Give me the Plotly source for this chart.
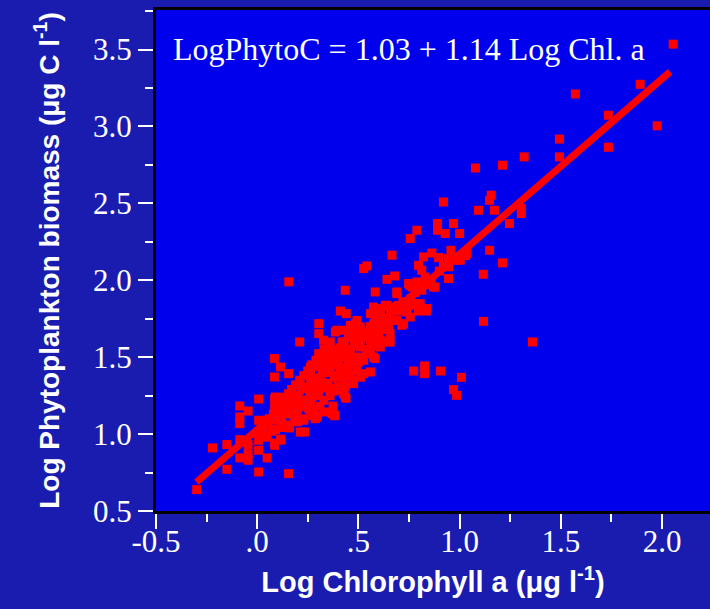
import plotly.graph_objects as go

# ---- data ----
pts = [
 (2.055,3.535),(1.892,3.274),(1.572,3.211),(1.735,3.073),(1.976,3.004),(1.735,2.865),(1.493,2.918),(1.493,2.802),
 (1.319,2.802),(1.212,2.748),(1.078,2.73),(1.156,2.553),(1.148,2.52),(1.093,2.455),(1.172,2.455),(1.305,2.466),
 (1.305,2.434),(0.92,2.509),(1.246,2.369),(0.891,2.369),(0.891,2.325),(0.97,2.369),(0.929,2.304),(1.0,2.304),
 (0.789,2.325),(0.756,2.271),(1.148,2.195),(1.212,2.113),(1.117,2.039),(0.666,2.163),(0.542,2.093),(0.526,2.076),
 (0.822,2.152),(0.863,2.177),(0.896,2.147),(0.797,2.097),(0.813,2.065),(0.83,2.021),(0.838,1.989),(0.879,1.956),
 (0.957,2.195),(0.945,2.141),(1.003,2.13),(1.036,2.174),(0.945,2.087),(0.945,2.011),(0.641,2.006),(0.679,2.028),
 (0.583,1.924),(0.69,1.924),(0.748,1.979),(0.765,1.956),(0.813,1.935),(0.871,1.956),(0.575,1.826),(0.633,1.837),
 (0.69,1.826),(0.748,1.837),(0.805,1.848),(0.838,1.816),(0.156,1.99),(0.435,1.935),(0.753,1.968),
 (1.118,1.733),(1.36,1.599),(0.773,1.41),(0.827,1.443),(0.827,1.393),(0.906,1.41),(1.009,1.369),(0.97,1.289),(0.985,1.252),
 (0.411,1.8),(0.44,1.783),(0.578,1.816),(0.608,1.794),(0.583,1.772),(0.641,1.837),(0.698,1.837),(0.74,1.848),
 (0.789,1.848),(0.797,1.80),(0.835,1.80),(0.74,1.794),(0.304,1.718),(0.304,1.653),(0.493,1.739),(0.509,1.696),
 (0.46,1.707),(0.427,1.675),(0.386,1.664),(0.575,1.718),(0.649,1.707),(0.649,1.751),(0.715,1.707),(0.21,1.599),
 (0.328,1.61),(0.361,1.599),(0.419,1.599),(0.46,1.631),(0.509,1.621),(0.6,1.61),(0.649,1.599),(0.6,1.577),
 (0.304,1.523),(0.304,1.491),(0.345,1.545),(0.37,1.545),(0.411,1.545),(0.559,1.523),(0.583,1.491),(0.526,1.48),
 (0.085,1.491),(0.115,1.436),(0.155,1.393),(0.085,1.371),(0.263,1.436),(0.263,1.393),(0.312,1.436),(0.345,1.447),
 (0.411,1.415),(0.444,1.415),(0.493,1.415),(0.509,1.371),(0.476,1.35),(0.213,1.317),(0.263,1.306),(0.304,1.285),
 (0.37,1.296),(0.419,1.285),(0.435,1.241),(0.155,1.263),(0.09,1.241),
 (0.559,1.783),(0.608,1.816),(0.608,1.761),(0.657,1.826),(0.69,1.913),(0.756,1.968),(0.789,1.989),(0.559,1.631),
 (0.608,1.61),(0.657,1.653),(0.608,1.566),(0.575,1.501),(0.559,1.404),(0.526,1.393),(0.624,1.718),(0.69,1.74),
 (0.723,1.718),(0.756,1.761),(0.805,1.805),(0.657,1.599),(0.485,1.718),(0.509,1.675),(0.485,1.61),(0.509,1.566),
 (0.485,1.501),(0.46,1.458),(0.509,1.371),(0.476,1.328),(0.435,1.306),(0.394,1.675),(0.394,1.458),(0.394,1.371),
 (0.427,1.566),(0.427,1.415),(0.427,1.263),(0.402,1.306),(0.328,1.501),(0.37,1.133),(0.383,1.122),(0.263,1.371),
 (0.263,1.263),(0.263,1.198),(0.263,1.133),(0.296,1.111),(0.234,1.014),(0.155,1.198),(0.131,1.144),
 (0.197,1.144),(0.197,1.09),(0.155,1.046),(0.049,0.992),(0.049,1.09),(0.086,1.231),(0.086,1.176),(0.086,1.09),
 (0.086,0.927),(0.155,0.743),(0.007,1.228),(0.007,1.09),(0.007,1.014),(0.007,0.96),(0.007,0.895),(0.007,0.754),
 (0.049,0.845),(-0.086,1.183),(-0.086,1.111),(-0.086,1.068),(-0.045,1.15),(-0.086,0.964),(-0.086,0.845),
 (-0.045,0.932),(-0.045,0.873),(-0.045,0.83),(-0.15,0.932),(-0.15,0.771),(-0.221,0.91),(-0.299,0.639),
 (0.115,0.96),(0.23,1.09),(0.287,1.1),(0.439,1.233),
 (0.297,1.119),(0.375,1.182),(0.335,1.144),(0.252,1.169),(0.185,1.081),(0.118,1.043),(0.074,1.018),(0.085,0.942),
 (0.118,0.967),(0.051,1.068),(0.384,1.119),(0.214,1.013),
 (0.03,1.05),(0.06,1.10),(0.10,1.12),(0.12,1.18),(0.14,1.16),(0.16,1.22),(0.18,1.20),(0.20,1.25),(0.22,1.22),
 (0.24,1.30),(0.26,1.28),(0.28,1.33),(0.30,1.36),(0.32,1.34),(0.34,1.40),(0.36,1.42),(0.38,1.45),(0.40,1.47),
 (0.42,1.50),(0.44,1.52),(0.46,1.55),(0.48,1.58),(0.50,1.62),(0.52,1.64),(0.54,1.66),(0.56,1.70),(0.60,1.72),
 (0.62,1.75),(0.66,1.78),(0.70,1.80),(0.72,1.86),(0.76,1.88),(0.78,1.92),(0.80,1.95),(0.84,1.97),(0.86,2.0),
 (0.90,2.06),(0.92,2.09),(0.98,2.13),(1.0,2.15),(1.03,2.16),
 (0.12,1.09),(0.15,1.13),(0.18,1.14),(0.2,1.17),(0.22,1.18),(0.25,1.22),(0.27,1.24),(0.3,1.25),(0.33,1.3),
 (0.35,1.33),(0.38,1.37),(0.4,1.38),(0.42,1.43),(0.45,1.47),(0.47,1.49),
 (0.08,1.13),(0.11,1.2),(0.13,1.24),(0.17,1.29),(0.19,1.32),(0.21,1.35),(0.23,1.38),(0.25,1.41),(0.27,1.45),
 (0.29,1.48),(0.31,1.5),(0.33,1.55),(0.35,1.58),(0.37,1.5),(0.39,1.53),(0.41,1.56),(0.43,1.6),(0.45,1.64),(0.47,1.67),
 (0.02,1.0),(0.04,0.98),(0.09,1.03),(0.14,1.06),(0.16,1.04),(0.2,1.08),(0.23,1.1),(0.26,1.12),(0.28,1.16),
 (0.31,1.18),(0.33,1.22),(0.36,1.25),(0.38,1.28),(0.4,1.31),(0.43,1.36),(0.46,1.38),(0.48,1.44),(0.5,1.47),
 (0.52,1.5),(0.54,1.55),(0.56,1.58),(0.58,1.62),(0.6,1.66),(0.63,1.68),(0.65,1.72),(0.68,1.74),
]
log_chl = [p[0] for p in pts]
log_phytoc = [p[1] for p in pts]

# regression line (from the equation shown on the chart)
intercept = 1.03
slope = 1.14
fit_x = [-0.3, 2.04]
fit_y = [intercept + slope * v for v in fit_x]

x_tickvals = [-0.5, 0.0, 0.5, 1.0, 1.5, 2.0]
x_ticktext = ["-0.5", ".0", ".5", "1.0", "1.5", "2.0"]
y_tickvals = [0.5, 1.0, 1.5, 2.0, 2.5, 3.0, 3.5]
y_ticktext = ["0.5", "1.0", "1.5", "2.0", "2.5", "3.0", "3.5"]

RED = "#FF0000"
PAPER = "#1A1CB0"
PLOT = "#0000EC"
SERIF = "Liberation Serif, Times New Roman, serif"
SANS = "Liberation Sans, Arial, sans-serif"

fig = go.Figure()
fig.add_trace(go.Scatter(
    x=log_chl, y=log_phytoc, mode="markers",
    marker=dict(symbol="square", size=9, color=RED, line=dict(width=0)),
    showlegend=False, hoverinfo="x+y"))
fig.add_trace(go.Scatter(
    x=fit_x, y=fit_y, mode="lines",
    line=dict(color=RED, width=7), showlegend=False))

fig.update_layout(
    width=710, height=609,
    margin=dict(l=156, r=0, t=10, b=98),
    paper_bgcolor=PAPER, plot_bgcolor=PLOT,
    showlegend=False,
    xaxis=dict(
        range=[-0.5, 2.237], tickvals=x_tickvals, ticktext=x_ticktext,
        ticks="outside", ticklen=15, tickwidth=2, tickcolor="white",
        minor=dict(ticks="outside", ticklen=8, tickwidth=2, tickcolor="white", dtick=0.25, tick0=-0.5),
        showgrid=False, zeroline=False,
        showline=True, linecolor="black", linewidth=3, mirror=True,
        tickfont=dict(family=SERIF, size=31, color="white"),
        ticklabelstandoff=-14,
        title=dict(text="<b>Log Chlorophyll a (μg l<sup>-1</sup>)</b>",
                   font=dict(family=SANS, size=29, color="white"), standoff=14),
    ),
    yaxis=dict(
        range=[0.5, 3.757], tickvals=y_tickvals, ticktext=y_ticktext,
        ticks="outside", ticklen=15, tickwidth=2, tickcolor="white",
        minor=dict(ticks="outside", ticklen=8, tickwidth=2, tickcolor="white", dtick=0.25, tick0=0.5),
        showgrid=False, zeroline=False,
        showline=True, linecolor="black", linewidth=3,
        tickfont=dict(family=SERIF, size=31, color="white"),
        title=dict(text="<b>Log Phytoplankton biomass (μg C l<sup>-1</sup>)</b>",
                   font=dict(family=SANS, size=28, color="white"), standoff=26),
    ),
    annotations=[dict(
        x=-0.425, y=3.505, xref="x", yref="y", xanchor="left", yanchor="middle",
        text="LogPhytoC = 1.03 + 1.14 Log Chl. a", showarrow=False,
        font=dict(family=SERIF, size=32, color="white"))],
)

fig.write_html("out.html")
